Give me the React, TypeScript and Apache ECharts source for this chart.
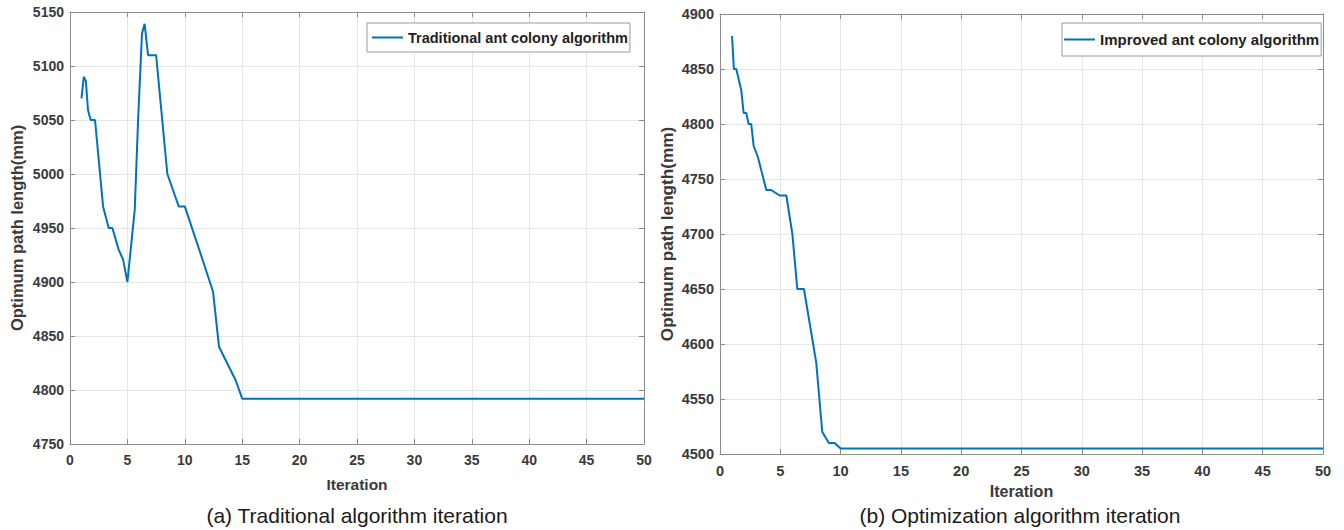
import React, { useEffect, useRef } from "react";
import * as echarts from "echarts";

// Traditional ant colony algorithm: [iteration, optimum path length]
const traditionalIter = [1, 1.2, 1.38, 1.57, 1.8, 2.18, 2.88, 3.37, 3.69, 4.24, 4.62, 5.0, 5.64, 5.93, 6.27, 6.5, 6.8, 7.5, 8.48, 9.47, 10.0, 11.88, 12.46, 12.98, 14.43, 15.0, 50];
const traditionalLen = [5070, 5090, 5086, 5059, 5050, 5050, 4970, 4950, 4950, 4930, 4921, 4900, 4967, 5050, 5130, 5139, 5110, 5110, 5000, 4970, 4970, 4910, 4891, 4840, 4809, 4792, 4792];

// Improved ant colony algorithm
const improvedIter = [1, 1.15, 1.35, 1.76, 1.96, 2.18, 2.37, 2.59, 2.79, 3.14, 3.84, 4.25, 4.94, 5.5, 6.0, 6.41, 6.96, 7.57, 7.98, 8.48, 9.03, 9.5, 10.0, 50];
const improvedLen = [4880, 4850, 4850, 4831, 4810, 4810, 4800, 4800, 4780, 4770, 4740, 4740, 4735, 4735, 4700, 4650, 4650, 4610, 4583, 4520, 4510, 4510, 4505, 4505];

const xTicks = { min: 0, max: 50, interval: 5 };
const leftY = { min: 4750, max: 5150, interval: 50 };
const rightY = { min: 4500, max: 4900, interval: 50 };

const seriesNames = ["Traditional ant colony algorithm", "Improved ant colony algorithm"];
const captions = ["(a) Traditional algorithm iteration", "(b) Optimization algorithm iteration"];
const xName = "Iteration";
const yName = "Optimum path length(mm)";

const FONT = "'Liberation Sans', Arial, Helvetica, sans-serif";
const LINE = "#0072BD";
const AXIS = "#8c8c8c";
const GRID = "#e6e6e6";
const LABEL = "#3a3a3a";

function zip(a: number[], b: number[]) {
  return a.map((v, i) => [v, b[i]]);
}

export default function App() {
  const ref = useRef<HTMLDivElement>(null);

  useEffect(() => {
    if (!ref.current) return;
    const chart = echarts.init(ref.current, undefined, { renderer: "svg" });

    const bold = (size: number) => ({ color: LABEL, fontSize: size, fontWeight: "bold" as const, fontFamily: FONT });

    const mainX = (grid: number, gap: number, k: number) => ({
      type: "value",
      gridIndex: grid,
      ...xTicks,
      name: xName,
      nameLocation: "middle",
      nameGap: gap,
      nameTextStyle: bold(15.5 * k),
      axisLine: { show: true, onZero: false, lineStyle: { color: AXIS, width: 1 } },
      axisTick: { show: true, inside: true, length: 5, lineStyle: { color: AXIS } },
      axisLabel: { ...bold(14 * k), margin: 9 },
      splitLine: { show: true, lineStyle: { color: GRID, width: 1 } },
    });
    const mirrorX = (grid: number) => ({
      type: "value",
      gridIndex: grid,
      position: "top",
      ...xTicks,
      axisLine: { show: true, onZero: false, lineStyle: { color: AXIS, width: 1 } },
      axisTick: { show: true, inside: true, length: 5, lineStyle: { color: AXIS } },
      axisLabel: { show: false },
      splitLine: { show: false },
    });
    const mainY = (grid: number, r: { min: number; max: number; interval: number }, k: number) => ({
      type: "value",
      gridIndex: grid,
      ...r,
      name: yName,
      nameLocation: "middle",
      nameGap: 45,
      nameRotate: 90,
      nameTextStyle: bold(16.5 * k),
      axisLine: { show: true, onZero: false, lineStyle: { color: AXIS, width: 1 } },
      axisTick: { show: true, inside: true, length: 5, lineStyle: { color: AXIS } },
      axisLabel: { ...bold(14 * k), margin: 6, formatter: (v: number) => String(v) },
      splitLine: { show: true, lineStyle: { color: GRID, width: 1 } },
    });
    const mirrorY = (grid: number, r: { min: number; max: number; interval: number }) => ({
      type: "value",
      gridIndex: grid,
      position: "right",
      ...r,
      axisLine: { show: true, onZero: false, lineStyle: { color: AXIS, width: 1 } },
      axisTick: { show: true, inside: true, length: 5, lineStyle: { color: AXIS } },
      axisLabel: { show: false },
      splitLine: { show: false },
    });

    const legendBase = {
      orient: "vertical",
      itemWidth: 31,
      itemHeight: 10,
      itemGap: 5,
      borderColor: "#9a9a9a",
      borderWidth: 1,
      backgroundColor: "#ffffff",
      icon: "path://M0,4 L31,4 L31,6 L0,6 Z",
    };

    chart.setOption({
      animation: false,
      backgroundColor: "#ffffff",
      grid: [
        { left: 70, top: 12, width: 574, height: 432, containLabel: false },
        { left: 720, top: 14, width: 603, height: 440, containLabel: false },
      ],
      xAxis: [mainX(0, 32, 1), mirrorX(0), mainX(1, 24, 1.04), mirrorX(1)],
      yAxis: [mainY(0, leftY, 1), mirrorY(0, leftY), mainY(1, rightY, 1.04), mirrorY(1, rightY)],
      legend: [
        {
          ...legendBase,
          left: 367,
          top: 23,
          padding: [7, 2, 7, 5],
          textStyle: { color: "#222", fontSize: 14.5, fontWeight: "bold", fontFamily: FONT },
          data: [seriesNames[0]],
        },
        {
          ...legendBase,
          left: 1062,
          top: 23,
          padding: [9, 2, 9, 2],
          textStyle: { color: "#222", fontSize: 15, fontWeight: "bold", fontFamily: FONT },
          data: [seriesNames[1]],
        },
      ],
      series: [
        {
          name: seriesNames[0],
          type: "line",
          xAxisIndex: 0,
          yAxisIndex: 0,
          data: zip(traditionalIter, traditionalLen),
          showSymbol: false,
          symbol: "none",
          lineStyle: { color: LINE, width: 2 },
          itemStyle: { color: LINE },
        },
        {
          name: seriesNames[1],
          type: "line",
          xAxisIndex: 2,
          yAxisIndex: 2,
          data: zip(improvedIter, improvedLen),
          showSymbol: false,
          symbol: "none",
          lineStyle: { color: LINE, width: 2 },
          itemStyle: { color: LINE },
        },
      ],
      graphic: [
        {
          type: "text",
          x: 357,
          y: 515,
          style: { text: captions[0], fontSize: 21, fontFamily: FONT, fill: "#1a1a1a", textAlign: "center", textVerticalAlign: "middle" },
        },
        {
          type: "text",
          x: 1020,
          y: 515,
          style: { text: captions[1], fontSize: 21, fontFamily: FONT, fill: "#1a1a1a", textAlign: "center", textVerticalAlign: "middle" },
        },
      ],
    });

    return () => chart.dispose();
  }, []);

  return (
    <div
      ref={ref}
      style={{ position: "absolute", left: 0, top: 0, width: 1344, height: 530 }}
    />
  );
}
